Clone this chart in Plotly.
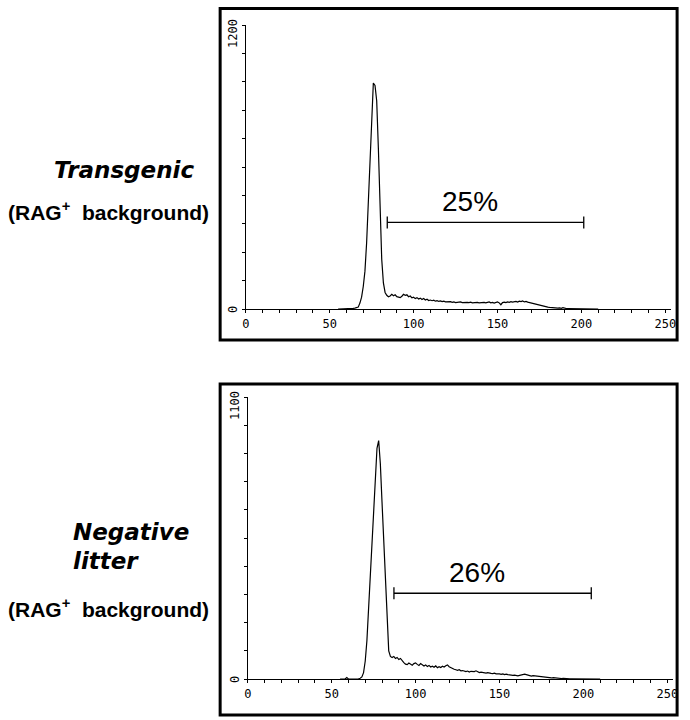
import plotly.graph_objects as go

# ---------------- data ----------------
channels = list(range(55, 211))  # fluorescence channel (x)

transgenic_counts = [
    0, 0, 0, 0, 0, 0, 1,                      # 55-61
    2, 3, 3, 4, 5, 8, 25, 50, 95,             # 62-70
    160, 280, 450, 640, 850, 955, 945, 880, 680, 430,   # 71-80
    210, 110, 70, 58, 52, 55, 62, 56, 60, 52,            # 81-90
    50, 48, 54, 62, 58, 60, 52, 55, 47, 50,              # 91-100
    44, 48, 42, 46, 40, 44, 38, 41, 36, 38,              # 101-110
    35, 37, 33, 35, 32, 34, 31, 33, 30, 31,              # 111-120
    29, 31, 28, 30, 27, 29, 28, 30, 27, 28,              # 121-130
    26, 28, 27, 29, 26, 27, 25, 28, 26, 27,              # 131-140
    25, 28, 26, 27, 30, 26, 28, 25, 27, 30,              # 141-150
    26, 18, 27, 29, 27, 30, 28, 31, 29, 30,              # 151-160
    32, 29, 33, 31, 34, 30, 32, 29, 27, 25,              # 161-170
    24, 21, 19, 17, 15, 13, 11, 10, 9, 8,                # 171-180
    7, 6, 5, 6, 5, 4, 5, 3, 6, 3,                        # 181-190
    2, 2, 2, 1, 2, 1, 1, 1, 1, 0,                        # 191-200
    0, 0, 0, 0, 0, 0, 0, 0, 0, 0,                        # 201-210
]

negative_counts = [
    0, 0, 0, 0, 6, 0, 0, 0, 0, 0, 0,          # 55-65
    1, 3, 8, 25, 70,                          # 66-70
    150, 280, 410, 540, 670, 790, 900, 930, 840, 690,    # 71-80
    540, 390, 210, 110, 88, 84, 88, 80, 84, 76,          # 81-90
    80, 70, 64, 58, 56, 62, 58, 54, 60, 63,              # 91-100
    57, 53, 60, 56, 51, 55, 49, 53, 47, 50,              # 101-110
    46, 51, 44, 48, 45, 50, 47, 52, 55, 48,              # 111-120
    44, 40, 38, 36, 34, 36, 32, 33, 30, 29,              # 121-130
    31, 27, 30, 28, 29, 32, 27, 25, 27, 25,              # 131-140
    24, 23, 25, 22, 22, 21, 23, 20, 21, 20,              # 141-150
    18, 20, 17, 19, 17, 15, 16, 14, 15, 13,              # 151-160
    12, 14, 16, 18, 19, 17, 14, 12, 11, 13,              # 161-170
    12, 10, 9, 8, 8, 7, 6, 6, 5, 5,                      # 171-180
    4, 5, 4, 3, 4, 3, 2, 3, 2, 2,                        # 181-190
    1, 1, 1, 1, 1, 1, 0, 0, 0, 0,                        # 191-200
    0, 0, 0, 0, 0, 0, 0, 0, 0, 0,                        # 201-210
]

y_max = [1200, 1100]
gate_lo = [84.3, 87.1]
gate_hi = [201.4, 204.7]
gate_pct = ["25%", "26%"]

# ---------------- layout geometry (pixels) ----------------
W, H = 690, 720
panels = [
    dict(x0=245, x1=676, y0=309, y1=25, frame=(219, 682, 8.5, 340)),
    dict(x0=247, x1=678, y0=679, y1=397, frame=(219, 682, 384, 715)),
]
X_RANGE = [0, 253.5]

fig = go.Figure()
series = [transgenic_counts, negative_counts]
for i, counts in enumerate(series):
    suf = "" if i == 0 else str(i + 1)
    fig.add_trace(go.Scatter(
        x=channels, y=counts, mode="lines",
        line=dict(color="black", width=1.2),
        xaxis="x" + suf, yaxis="y" + suf, showlegend=False,
        hoverinfo="skip",
    ))

mono = dict(family="DejaVu Sans Mono", size=12, color="black")
layout = dict(
    width=W, height=H, autosize=False,
    margin=dict(l=0, r=0, t=0, b=0),
    paper_bgcolor="white", plot_bgcolor="white",
    showlegend=False,
)
shapes = []
annotations = []
for i, p in enumerate(panels):
    suf = "" if i == 0 else str(i + 1)
    ymax = y_max[i]
    layout["xaxis" + suf] = dict(
        domain=[p["x0"] / W, p["x1"] / W], range=X_RANGE,
        anchor="y" + suf, showline=True, linecolor="black", linewidth=1.2,
        showgrid=False, zeroline=False,
        tickmode="linear", tick0=0, dtick=50,
        ticks="outside", ticklen=3, tickcolor="black", tickwidth=1,
        minor=dict(tickmode="linear", tick0=0, dtick=10, ticks="outside",
                   ticklen=3, tickcolor="black", tickwidth=1, showgrid=False),
        tickfont=mono, tickangle=0, fixedrange=True,
    )
    layout["yaxis" + suf] = dict(
        domain=[1 - p["y0"] / H, 1 - p["y1"] / H], range=[0, ymax],
        anchor="x" + suf, showline=True, linecolor="black", linewidth=1.2,
        showgrid=False, zeroline=False,
        tickmode="linear", tick0=0, dtick=ymax / 10,
        ticks="outside", ticklen=3, tickcolor="black", tickwidth=1,
        showticklabels=False, fixedrange=True,
    )
    # frame
    fx0, fx1, fy0, fy1 = p["frame"]
    shapes.append(dict(type="rect", xref="paper", yref="paper",
                       x0=fx0 / W, x1=fx1 / W, y0=1 - fy1 / H, y1=1 - fy0 / H,
                       line=dict(color="black", width=3), fillcolor="rgba(0,0,0,0)"))
    # y-axis end labels (rotated)
    px_per_unit = (p["y0"] - p["y1"]) / ymax
    lab_x = (p["x0"] - 13) / W
    annotations.append(dict(text=str(ymax), xref="paper", yref="y" + suf,
                            x=lab_x, y=ymax - 8 / px_per_unit, textangle=-90,
                            showarrow=False, font=mono,
                            xanchor="center", yanchor="middle"))
    annotations.append(dict(text="0", xref="paper", yref="y" + suf,
                            x=lab_x, y=0, textangle=-90,
                            showarrow=False, font=mono,
                            xanchor="center", yanchor="middle"))
    # gate bracket
    level = ymax * (0.305 if i == 0 else 0.304)
    shapes.append(dict(type="line", xref="x" + suf, yref="y" + suf,
                       x0=gate_lo[i], x1=gate_hi[i], y0=level, y1=level,
                       line=dict(color="black", width=1.3)))
    for gx in (gate_lo[i], gate_hi[i]):
        shapes.append(dict(type="line", xref="x" + suf, yref="y" + suf,
                           ysizemode="pixel", yanchor=level,
                           x0=gx, x1=gx, y0=-6, y1=6,
                           line=dict(color="black", width=1.3)))
    annotations.append(dict(text=gate_pct[i], xref="x" + suf, yref="y" + suf,
                            x=(gate_lo[i] + gate_hi[i]) / 2 - 9,
                            y=level + 21 / px_per_unit,
                            showarrow=False, xanchor="center", yanchor="middle",
                            font=dict(family="Liberation Sans", size=28, color="black")))

title_font = dict(family="DejaVu Sans", size=23, color="black")
sub_font = dict(family="Liberation Sans", size=21, color="black")
left_labels = [
    ("<b><i>Transgenic</i></b>", 195, 170, "right", title_font),
    ("<b>(RAG<sup>+</sup>  background)</b>", 210, 211, "right", sub_font),
    ("<b><i>Negative</i></b>", 68, 532, "left", title_font),
    ("<b><i>litter</i></b>", 68, 561, "left", title_font),
    ("<b>(RAG<sup>+</sup>  background)</b>", 210, 608, "right", sub_font),
]
for txt, px, py, anchor, f in left_labels:
    annotations.append(dict(text=txt, xref="paper", yref="paper",
                            x=px / W, y=1 - py / H, xanchor=anchor, yanchor="middle",
                            showarrow=False, font=f))

layout["shapes"] = shapes
layout["annotations"] = annotations
fig.update_layout(**layout)
fig.write_html(
    "out.html",
    config={"displayModeBar": False},
    post_script="document.body.style.margin='0px';document.body.style.overflow='hidden';",
)
